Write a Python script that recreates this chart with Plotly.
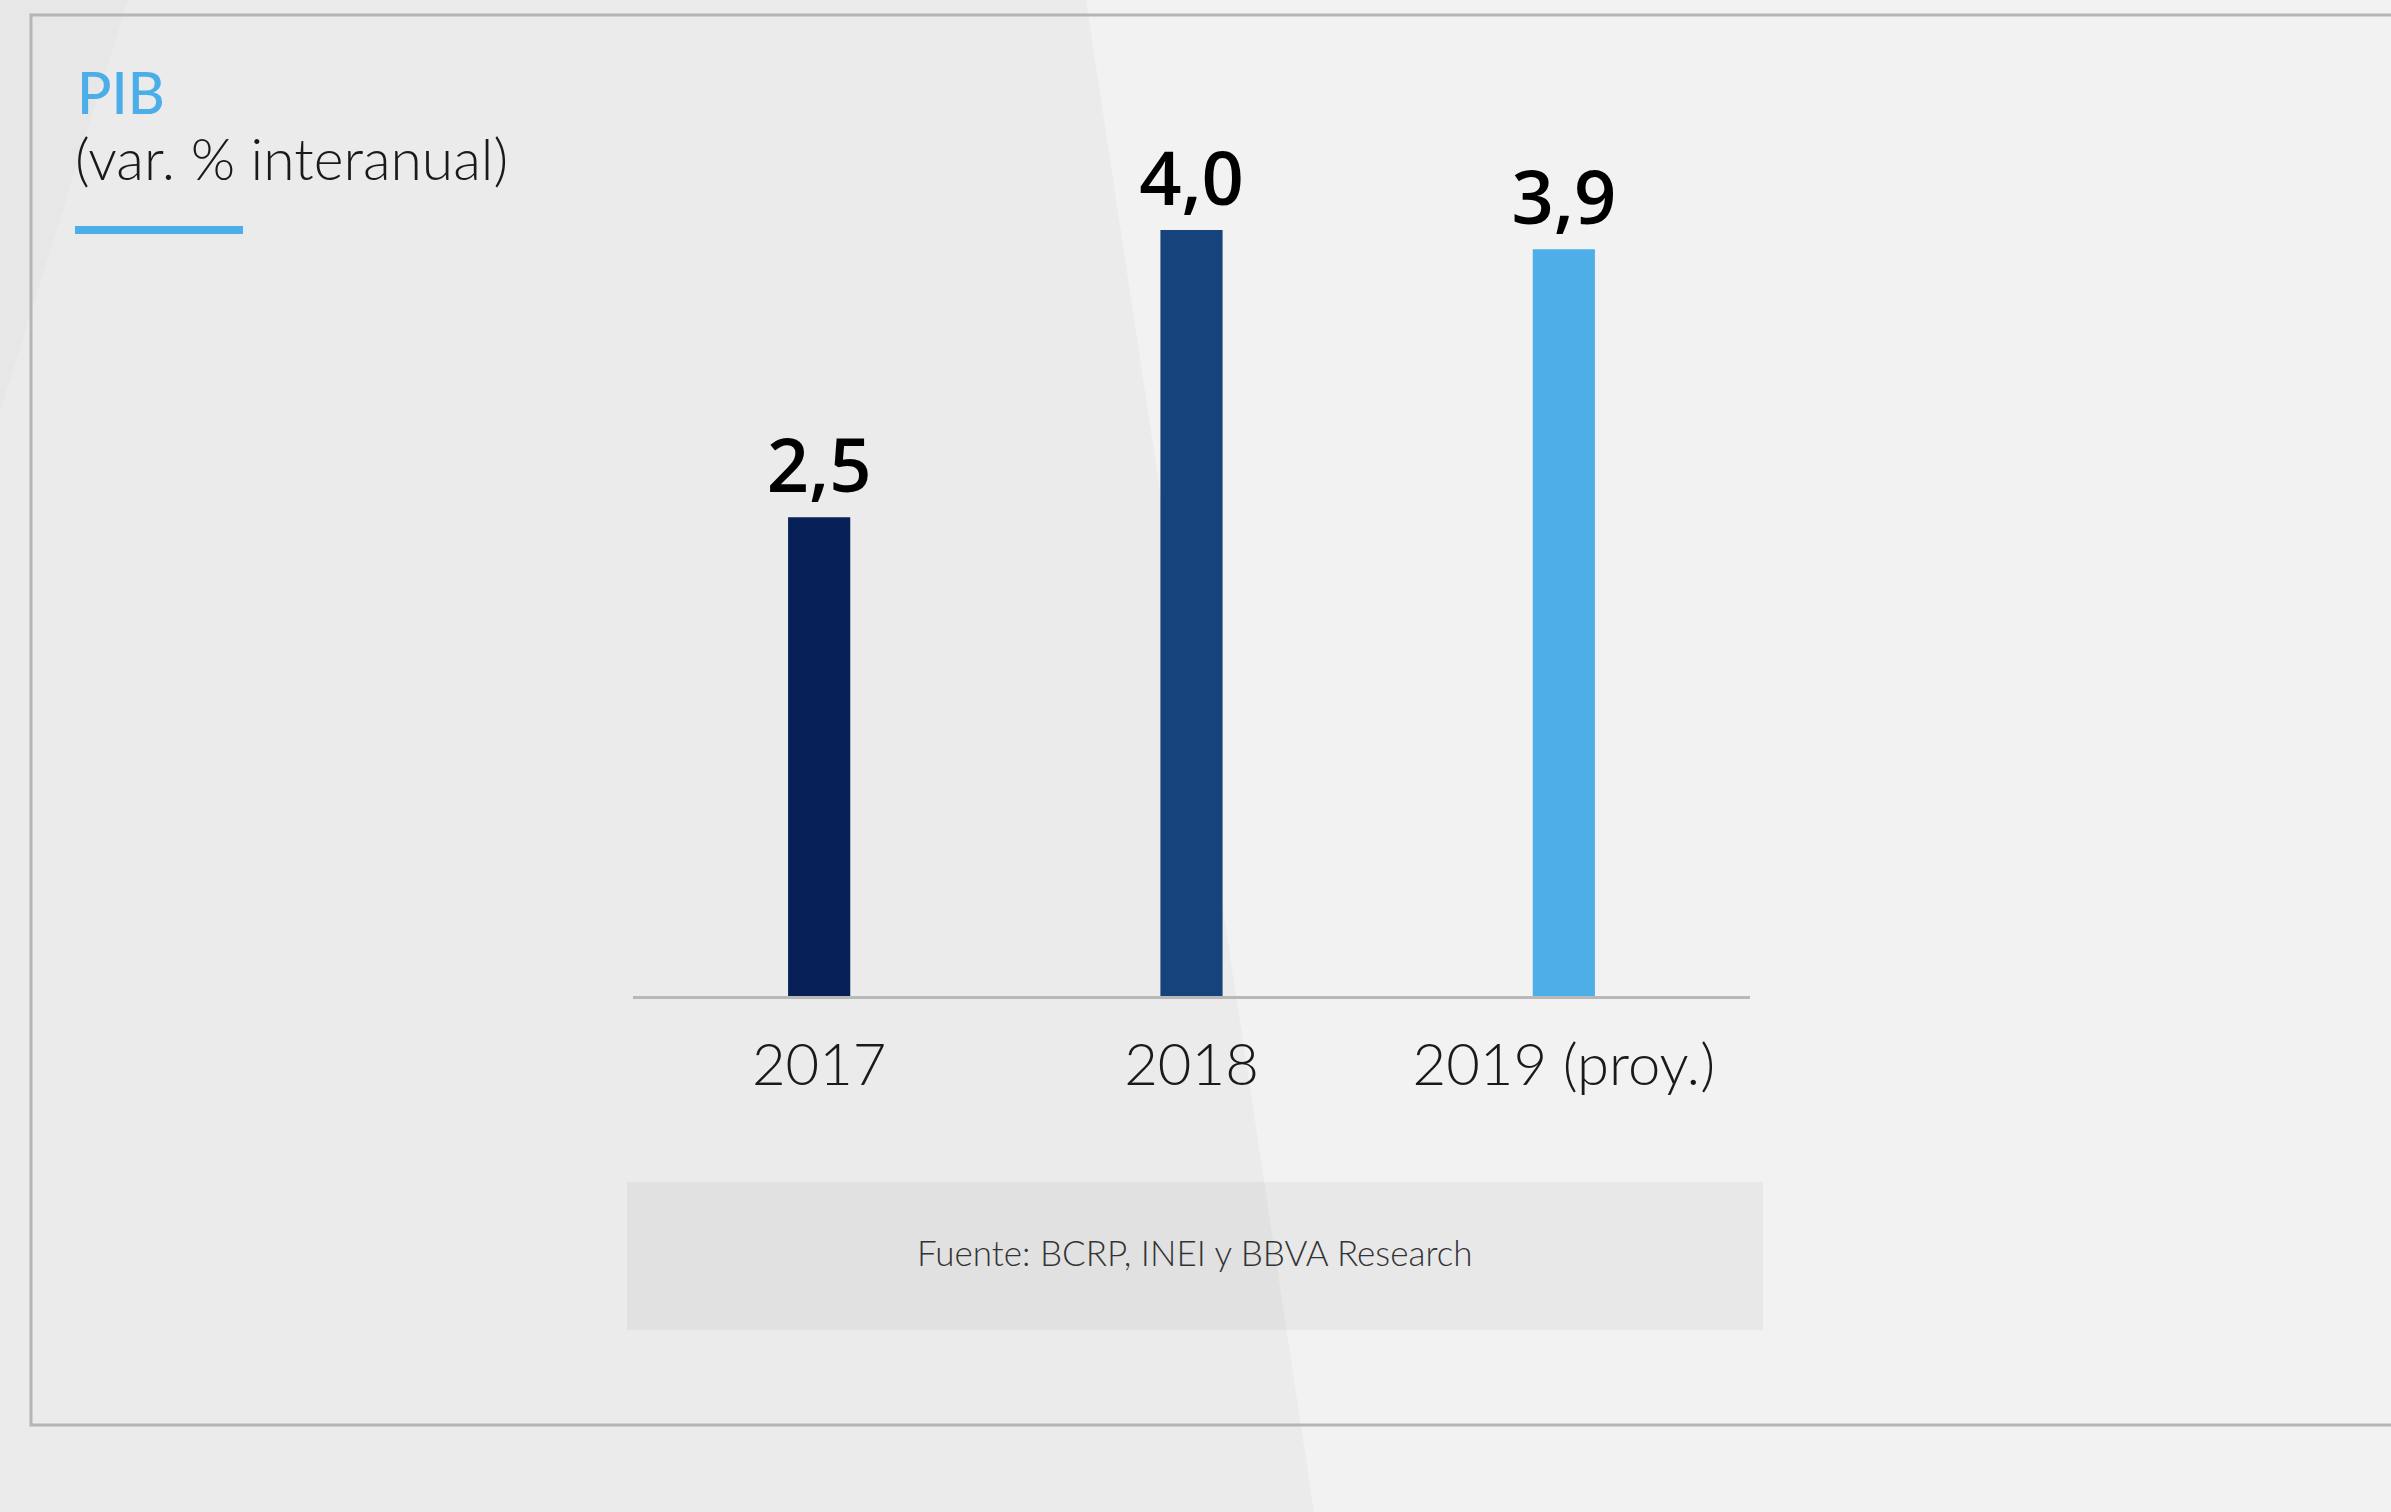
import plotly.graph_objects as go

W, H = 2391, 1512

# ---- data ----
categories = ["2017", "2018", "2019 (proy.)"]
values = [2.5, 4.0, 3.9]
bar_colors = ["#072058", "#17437c", "#4daee8"]
title_text = "PIB"
subtitle_text = "(var. % interanual)"
source_text = "Fuente: BCRP, INEI y BBVA Research"


def px(x):
    return x / W


def py(y):
    return 1 - y / H


fig = go.Figure()
fig.add_trace(go.Bar(
    x=categories,
    y=values,
    marker=dict(color=bar_colors, line=dict(width=0)),
    width=0.167,
    texttemplate="%{y:.1f}",
    textposition="outside",
    constraintext="none",
    cliponaxis=False,
    textfont=dict(family="Open Sans", size=74, color="#000000", weight=600),
    hoverinfo="skip",
))

shapes = [
    # darker top-left wedge
    dict(type="path", xref="paper", yref="paper",
         path=f"M 0 {py(0)} L {px(128)} {py(0)} L 0 {py(412)} Z",
         fillcolor="#e8e7e8", line=dict(width=0), layer="below"),
    # lighter right region
    dict(type="path", xref="paper", yref="paper",
         path=f"M {px(1086)} {py(0)} L 1 {py(0)} L 1 {py(H)} L {px(1314)} {py(H)} Z",
         fillcolor="#f3f2f3", line=dict(width=0), layer="below"),
    # source box
    dict(type="rect", xref="paper", yref="paper",
         x0=px(627), x1=px(1763), y0=py(1330), y1=py(1182),
         fillcolor="rgba(0,0,0,0.04)", line=dict(width=0), layer="below"),
    # frame
    dict(type="rect", xref="paper", yref="paper",
         x0=px(31), x1=px(2420), y0=py(1425), y1=py(15),
         fillcolor="rgba(0,0,0,0)", line=dict(color="#b5b5b5", width=3), layer="below"),
    # blue accent line
    dict(type="rect", xref="paper", yref="paper",
         x0=px(75), x1=px(243), y0=py(234), y1=py(226),
         fillcolor="#4baee8", line=dict(width=0), layer="above"),
]

annotations = [
    dict(text=title_text, xref="paper", yref="paper", x=px(75), y=py(92),
         xanchor="left", yanchor="middle", showarrow=False,
         font=dict(family="Lato", size=57, color="#4baee8", weight=500)),
    dict(text=subtitle_text, xref="paper", yref="paper", x=px(73), y=py(158),
         xanchor="left", yanchor="middle", showarrow=False,
         font=dict(family="Lato", size=57, color="#1a1a1a", weight=300)),
    dict(text=source_text, xref="paper", yref="paper", x=px(1195), y=py(1252),
         xanchor="center", yanchor="middle", showarrow=False,
         font=dict(family="Lato", size=35, color="#333333", weight=300)),
]

fig.update_layout(
    width=W, height=H,
    margin=dict(l=0, r=0, t=0, b=0),
    paper_bgcolor="#ecebec",
    plot_bgcolor="rgba(0,0,0,0)",
    separators=",.",
    showlegend=False,
    shapes=shapes,
    annotations=annotations,
    xaxis=dict(
        domain=[px(633), px(1750)],
        showline=True, linecolor="#b8b8b8", linewidth=3,
        showgrid=False, zeroline=False, ticks="",
        ticklabelstandoff=16,
        tickfont=dict(family="Lato", size=58, color="#1a1a1a", weight=300),
        automargin=False,
    ),
    yaxis=dict(
        domain=[py(996), py(38.5)],
        range=[0, 5],
        visible=False,
        automargin=False,
    ),
)

fig.write_html("out.html")
